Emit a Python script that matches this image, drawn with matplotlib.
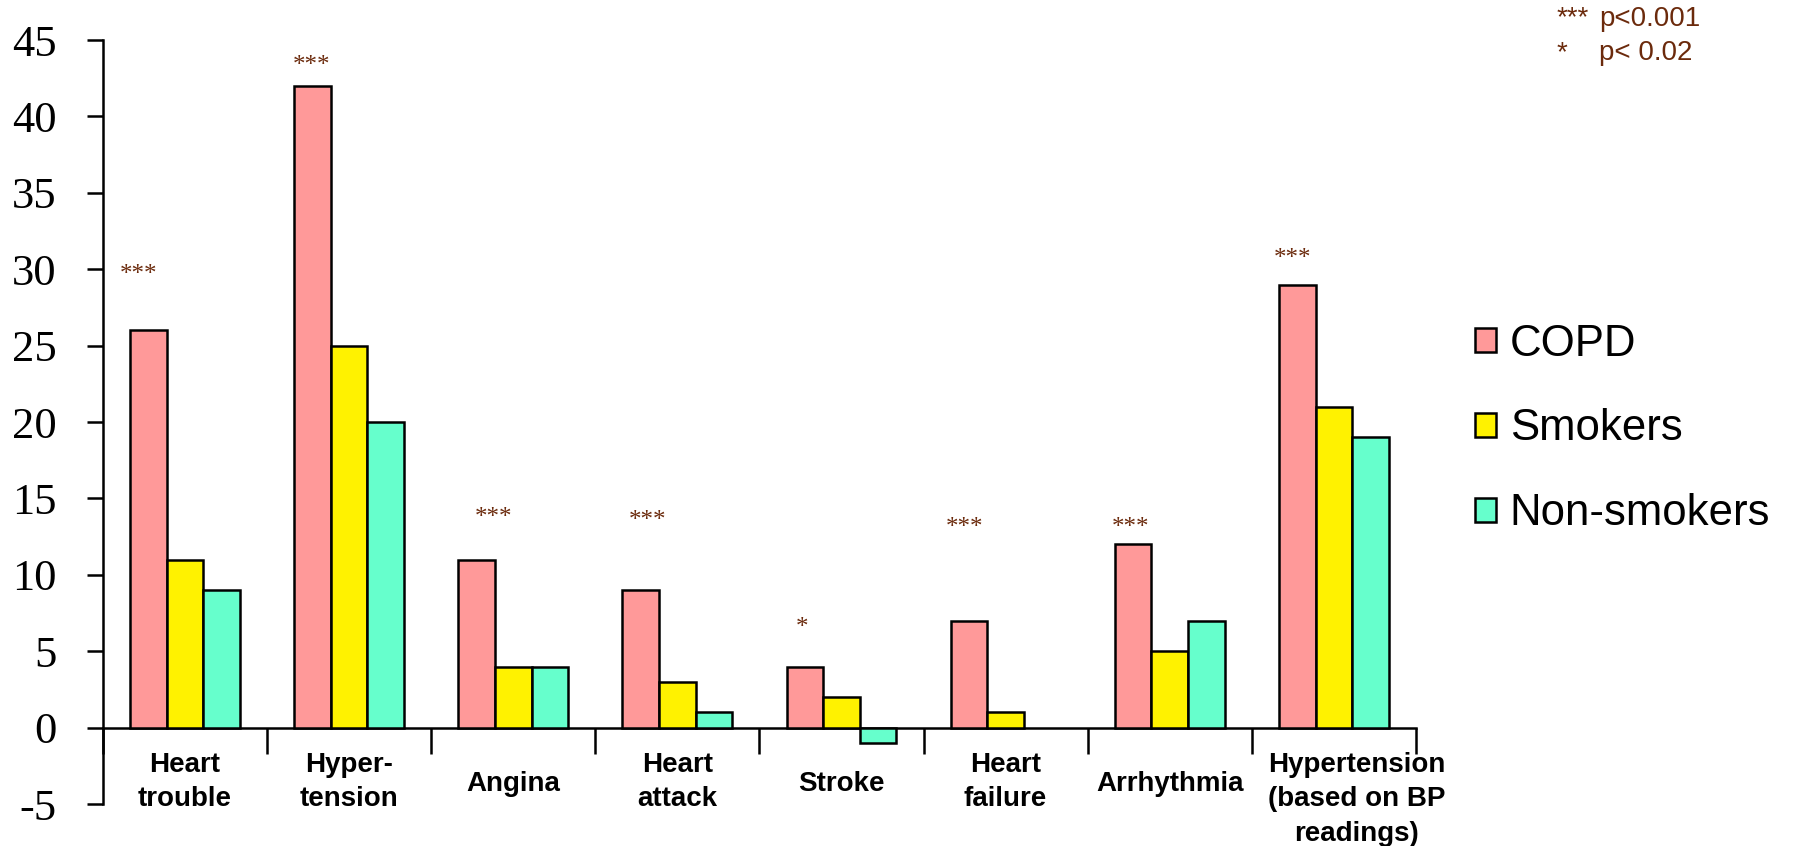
import matplotlib
matplotlib.use("Agg")
import matplotlib.pyplot as plt
import numpy as np

# data
categories = ["Heart\ntrouble", "Hyper-\ntension", "Angina", "Heart\nattack", "Stroke",
              "Heart\nfailure", "Arrhythmia", "Hypertension\n(based on BP\nreadings)"]
copd = [26, 42, 11, 9, 4, 7, 12, 29]
smokers = [11, 25, 4, 3, 2, 1, 5, 21]
non_smokers = [9, 20, 4, 1, -1, 0, 7, 19]
series_names = ["COPD", "Smokers", "Non-smokers"]

# significance marks above the COPD bars
sig_marks = ["***", "***", "***", "***", "*", "***", "***", "***"]
sig_x = [-0.28, 0.77, 1.88, 2.82, 3.76, 4.75, 5.76, 6.75]
sig_y = [29.9, 43.6, 14.0, 13.8, 6.8, 13.4, 13.4, 31.0]

colors = ["#ff9999", "#fff200", "#66ffcc"]
brown = "#6b2a0c"

fig = plt.figure(figsize=(17.93, 8.46), dpi=100)
ax = fig.add_axes([0.0574, 0.0496, 0.7323, 0.9031])

x = np.arange(len(categories))
width = 0.223
for k, (vals, name, col) in enumerate(zip([copd, smokers, non_smokers], series_names, colors)):
    vals = np.array(vals, dtype=float)
    mask = vals != 0
    ax.bar(x[mask] + (k - 1) * width, vals[mask], width, color=col,
           edgecolor="black", linewidth=1.8, label=name, zorder=3)

for sx, sy, s in zip(sig_x, sig_y, sig_marks):
    ax.text(sx, sy - 0.7, s, ha="center", va="baseline", fontsize=18,
            family="Liberation Serif", color=brown)

ax.set_xlim(-0.5, len(categories) - 0.5)
ax.set_ylim(-5, 45)
ax.set_yticks(np.arange(-5, 46, 5))
ax.set_yticklabels([str(v) for v in range(-5, 46, 5)], family="Liberation Serif", fontsize=32)
ax.tick_params(axis="y", direction="out", length=11.5, width=1.8, pad=22)

# x axis crosses at zero, ticks at category boundaries
ax.spines["bottom"].set_position(("data", 0))
ax.spines["bottom"].set_linewidth(1.8)
ax.spines["left"].set_linewidth(1.8)
ax.spines["top"].set_visible(False)
ax.spines["right"].set_visible(False)
ax.set_xticks(np.arange(-0.5, len(categories), 1.0))
ax.set_xticklabels([])
ax.tick_params(axis="x", direction="out", length=19, width=1.8)

# category names under the axis; the last one sits a little right of centre
for xi, lab in zip(x, categories):
    shift = 0.14 if lab.count("\n") > 1 else 0.0
    if "\n" in lab:
        ax.text(xi + shift, -1.6, lab, ha="center", va="top", fontsize=20, fontweight="bold",
                family="Liberation Sans", linespacing=1.42, clip_on=False)
    else:
        ax.text(xi, -3.7, lab, ha="center", va="center", fontsize=20, fontweight="bold",
                family="Liberation Sans", clip_on=False)

leg = ax.legend(loc="center left", bbox_to_anchor=(0.8227, 0.493),
                bbox_transform=fig.transFigure, frameon=False, borderpad=0,
                borderaxespad=0, prop={"family": "Liberation Sans", "size": 31.5},
                handlelength=0.47, handleheight=0.47, handletextpad=0.32,
                labelspacing=1.0)

fig.text(0.868, 0.978, "***", ha="left", va="center", fontsize=20,
         family="Liberation Sans", color=brown)
fig.text(0.892, 0.978, "p<0.001", ha="left", va="center", fontsize=20,
         family="Liberation Sans", color=brown)
fig.text(0.868, 0.937, "*", ha="left", va="center", fontsize=20,
         family="Liberation Sans", color=brown)
fig.text(0.892, 0.937, "p< 0.02", ha="left", va="center", fontsize=20,
         family="Liberation Sans", color=brown)

fig.savefig("out.png", dpi=100)
